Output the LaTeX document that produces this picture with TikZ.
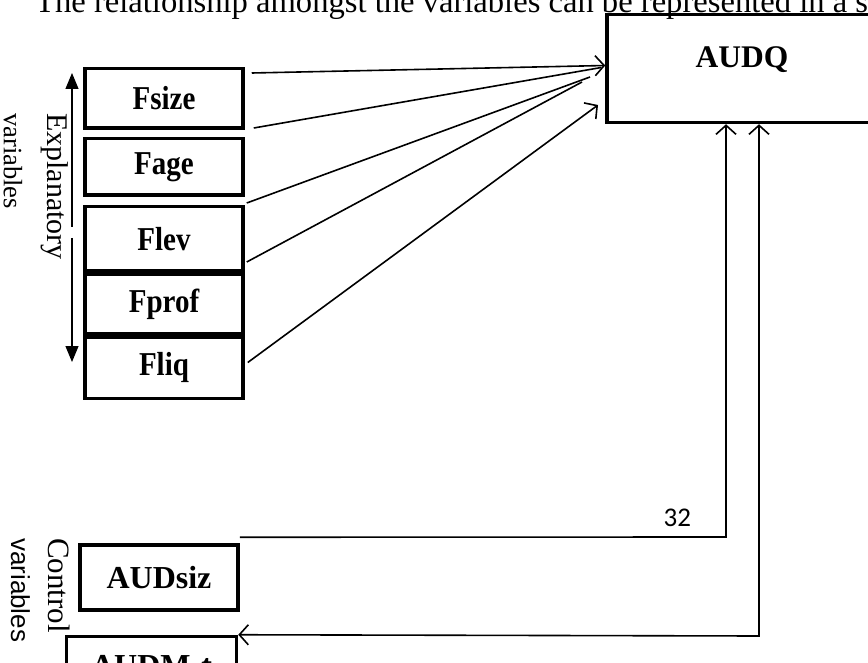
\documentclass[tikz,border=0pt]{standalone}
\usepackage{fontspec}
\setmainfont{Liberation Serif}
\setsansfont{Liberation Sans}
\newfontfamily\calibri{Carlito}
\usetikzlibrary{arrows.meta, positioning, calc}
\newcommand{\tallfont}[1]{\scalebox{1}[1.15]{#1}}

\begin{document}
\begin{tikzpicture}[
    x=1pt, y=-1pt,
    varbox/.style={rectangle, draw, line width=3.5pt, minimum width=158pt, align=center, font=\fontsize{29}{34}\selectfont\bfseries},
    audbox/.style={varbox, font=\fontsize{32}{36}\selectfont\bfseries},
    sidelabel/.style={rotate=-90, anchor=base west, inner sep=0pt, font=\fontsize{30}{34}\selectfont},
    arrow/.style={-{Straight Barb[length=9pt, width=20pt]}, line width=1.6pt},
    biarrow/.style={{Straight Barb[length=9pt, width=20pt]}-{Straight Barb[length=9pt, width=20pt]}, line width=1.6pt},
    link/.style={line width=1.6pt},
    spanarrow/.style={-{Triangle[length=16pt, width=13pt]}, line width=1.2pt}
]
\clip (0,0) rectangle (868,663);

% ========== TITLE ==========
\node[anchor=base west, inner sep=0pt, font=\fontsize{32.6}{36}\selectfont] (title) at (35,13) {The relationship amongst the variables can be represented in a s};

% ========== AUDQ ==========
\node[draw, line width=3.5pt, minimum width=270pt, minimum height=108pt, text height=20pt, text depth=22pt, font=\fontsize{31.5}{36}\selectfont\bfseries] (audq) at (742,68.5) {AUDQ};

% ========== EXPLANATORY ==========
\node[varbox, minimum height=59.5pt] (fsize) at (164,98.5) {\tallfont{Fsize}};
\node[varbox, minimum height=56.5pt, below=7pt of fsize] (fage) {\tallfont{Fage}};
\node[varbox, minimum height=64.5pt, below=8pt of fage] (flev) {\tallfont{Flev}};
\node[varbox, minimum height=58.5pt, below=0pt of flev] (fprof) {\tallfont{Fprof}};
\node[varbox, minimum height=61.5pt, below=0pt of fprof] (fliq) {\tallfont{Fliq}};

\node[sidelabel] (explA) at (47,113) {Explanatory};
\node[sidelabel, font=\fontsize{26.5}{30}\selectfont] (explB) at (4,113) {variables};

% Flecha vertical partida
\coordinate (spanTop) at (72,73);
\coordinate (spanGapA) at (72,227);
\coordinate (spanGapB) at (72,238);
\coordinate (spanBot) at (72,362);
\draw[spanarrow] (spanGapA) -- (spanTop);
\draw[spanarrow] (spanGapB) -- (spanBot);

% Arrows hacia AUDQ
\coordinate (tipA) at ($(audq.west)+(0,-3)$);
\coordinate (endB) at ($(tipA)+(-4,2)$);
\coordinate (endC) at (590,77);
\coordinate (endD) at (582,82);
\coordinate (tipE) at (598,105);
\draw[arrow] ($(fsize.north east)+(7,6)$) -- (tipA);
\draw[link] ($(fsize.south east)+(9,-2)$) -- (endB);
\draw[link] ($(flev.north east)+(2,-2)$) -- (endC);
\draw[link] ($(flev.south east)+(2,-11)$) -- (endD);
\draw[arrow] ($(fliq.east)+(3,-5)$) -- (tipE);

% ========== CONTROL ==========
\node[audbox, minimum height=65pt] (audsiz) at (159,577.5) {AUDsiz};
\node[audbox, minimum width=170pt, minimum height=60pt, below=23pt of audsiz, xshift=-7.5pt] (audmt) {AUDM-t};

\node[sidelabel, font=\fontsize{31}{34}\selectfont] (ctrlA) at (48,538) {Control};
\node[sidelabel, font=\sffamily\fontsize{26}{30}\selectfont] (ctrlB) at (11,538) {variables};

\coordinate (kneeS) at (726,537);
\coordinate (kneeM) at (759,636);
\draw[arrow] ($(audsiz.north east)+(0,-6)$) -- node[pos=0.9, above=6pt, font=\calibri\fontsize{27}{30}\selectfont] (num) {32} (kneeS) -- (kneeS |- audq.south);
\draw[biarrow] (audmt.north east) -- (kneeM) -- (kneeM |- audq.south);

\end{tikzpicture}
\end{document}
